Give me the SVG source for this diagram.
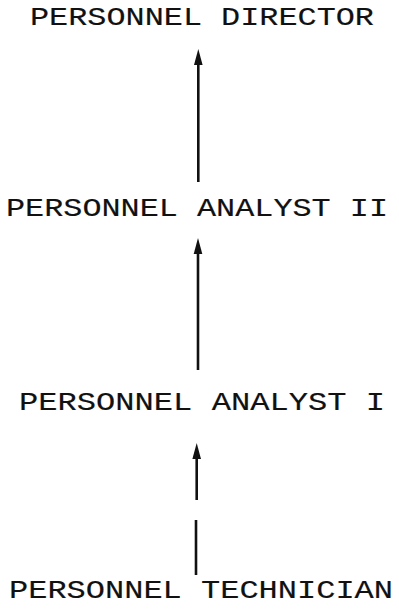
<svg xmlns="http://www.w3.org/2000/svg" width="399" height="610" viewBox="0 0 399 610">
  <style>
    .lbl { font-family: "Liberation Mono", "Courier New", monospace; font-size: 26px; fill: #111; stroke: #111; stroke-width: 0.15; }
    .edge { stroke: #111; stroke-width: 2.6; fill: none; }
    .head { fill: #111; }
  </style>
  <defs>
    <path id="arrowhead" class="head" d="M0,0 L4.3,16 L-4.3,16 Z"/>
  </defs>
  <rect width="399" height="610" fill="#fff"/>

  <g id="node-director">
    <text class="lbl" x="30" y="25" textLength="344" lengthAdjust="spacingAndGlyphs">PERSONNEL DIRECTOR</text>
  </g>
  <g id="node-analyst-2">
    <text class="lbl" x="6" y="216" textLength="382" lengthAdjust="spacingAndGlyphs">PERSONNEL ANALYST II</text>
  </g>
  <g id="node-analyst-1">
    <text class="lbl" x="19" y="410" textLength="366" lengthAdjust="spacingAndGlyphs">PERSONNEL ANALYST I</text>
  </g>
  <g id="node-technician">
    <text class="lbl" x="9" y="598" textLength="384" lengthAdjust="spacingAndGlyphs">PERSONNEL TECHNICIAN</text>
  </g>

  <g id="connectors">
    <!-- analyst II to director -->
    <line class="edge" x1="198.3" y1="182" x2="198.3" y2="60"/>
    <use href="#arrowhead" x="198.3" y="49"/>
    <!-- analyst I to analyst II -->
    <line class="edge" x1="198" y1="370" x2="198" y2="248"/>
    <use href="#arrowhead" x="198" y="238"/>
    <!-- technician to analyst I (broken line) -->
    <line class="edge" x1="196.7" y1="500" x2="196.7" y2="453"/>
    <line class="edge" x1="196" y1="520" x2="196" y2="575"/>
    <use href="#arrowhead" x="196.7" y="443"/>
  </g>
</svg>
